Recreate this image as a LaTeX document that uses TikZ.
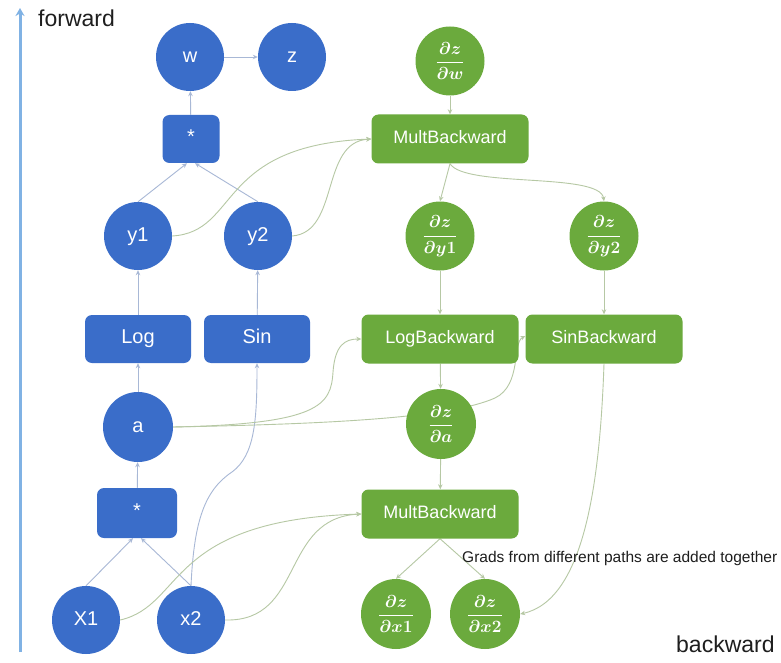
\documentclass[tikz,border=0pt]{standalone}
\usepackage{amsmath}
\usepackage{fontspec}
\setmainfont{Liberation Sans}
\usetikzlibrary{arrows.meta}

\definecolor{fwdblue}{RGB}{58,109,201}
\definecolor{bwdgreen}{RGB}{107,170,61}
\definecolor{fwdedge}{RGB}{168,184,214}
\definecolor{bwdedge}{RGB}{182,200,164}
\definecolor{axisblue}{RGB}{128,178,228}
\definecolor{textdark}{RGB}{30,30,30}

\pgfdeclarelayer{paper}
\pgfdeclarelayer{edges}
\pgfsetlayers{paper,edges,main}

\tikzset{
  fwdvar/.style={circle, fill=fwdblue, minimum size=68pt, inner sep=0pt,
    text height=1.15em, text depth=0.12em,
    text=white, font=\fontsize{20}{24}\selectfont},
  fwdop/.style={rectangle, rounded corners=7pt, fill=fwdblue, inner sep=0pt,
    text height=1.1em, text depth=0.12em,
    text=white, font=\fontsize{20}{24}\selectfont},
  gradvar/.style={circle, fill=bwdgreen, minimum size=69pt, inner sep=0pt,
    text=white, font=\fontsize{19}{22}\selectfont\boldmath},
  bwdop/.style={rectangle, rounded corners=7pt, fill=bwdgreen, inner sep=0pt,
    minimum width=157pt, minimum height=49pt,
    text height=1.1em, text depth=0.12em,
    text=white, font=\fontsize{18}{22}\selectfont},
  fwdarrow/.style={draw=fwdedge, line width=0.9pt, -{Stealth[length=5pt,width=4.5pt]}},
  bwdarrow/.style={draw=bwdedge, line width=0.9pt, -{Stealth[length=5pt,width=4.5pt]}},
  sidelabel/.style={text=textdark, inner sep=0pt, font=\fontsize{23}{26}\selectfont},
}

\begin{document}
\begin{tikzpicture}[x=1pt, y=-1pt]
  \begin{pgfonlayer}{paper}
    \fill[white] (0,0) rectangle (781,663);
  \end{pgfonlayer}
  \useasboundingbox (0,0) rectangle (781,663);

  % direction axis
  \coordinate (axisbot) at (20,652);
  \coordinate (axistop) at (20,8);
  \draw[axisblue, line width=3pt, -{Stealth[length=8pt,width=9pt]}] (axisbot) -- (axistop);
  \node[sidelabel, anchor=base west] (fwdtxt) at (38,27) {forward};
  \node[sidelabel, anchor=base west] (bwdtxt) at (676,652) {backward};

  % forward graph
  \node[fwdvar] (w) at (190,57) {w};
  \node[fwdvar] (z) at (292,57) {z};
  \node[fwdop, minimum width=57pt, minimum height=48pt] (mtop) at (191,139) {*};
  \node[fwdvar] (y1) at (138,236) {y1};
  \node[fwdvar] (y2) at (258,236) {y2};
  \node[fwdop, minimum width=106pt, minimum height=48pt] (log) at (138,339) {Log};
  \node[fwdop, minimum width=106pt, minimum height=48pt] (sin) at (257,339) {Sin};
  \node[fwdvar, minimum size=70pt] (a) at (138,427) {a};
  \node[fwdop, minimum width=80pt, minimum height=50pt] (mlow) at (137,513) {*};
  \node[fwdvar] (x1) at (86,620) {X1};
  \node[fwdvar] (x2) at (191,620) {x2};

  % backward graph
  \node[gradvar] (gw) at (450,61) {$\dfrac{\partial z}{\partial w}$};
  \node[bwdop] (mbtop) at (450,139) {MultBackward};
  \node[gradvar] (gy1) at (440,236) {$\dfrac{\partial z}{\partial y1}$};
  \node[gradvar] (gy2) at (604,236) {$\dfrac{\partial z}{\partial y2}$};
  \node[bwdop] (logb) at (440,339) {LogBackward};
  \node[bwdop] (sinb) at (604,339) {SinBackward};
  \node[gradvar, minimum size=70pt] (ga) at (441,424) {$\dfrac{\partial z}{\partial a}$};
  \node[bwdop] (mblow) at (440,514) {MultBackward};
  \node[gradvar, minimum size=70pt] (gx1) at (396,614) {$\dfrac{\partial z}{\partial x1}$};
  \node[gradvar, minimum size=70pt] (gx2) at (485,614) {$\dfrac{\partial z}{\partial x2}$};

  \node[text=textdark, inner sep=0pt, anchor=base west, font=\fontsize{15.5}{18}\selectfont]
    (note) at (462,562) {Grads from different paths are added together};

  \begin{pgfonlayer}{edges}
    % forward connectors
    \draw[fwdarrow] (w) -- (z);
    \draw[fwdarrow] (mtop) -- (w);
    \draw[fwdarrow] (y1.north) -- ([xshift=-4pt]mtop.south);
    \draw[fwdarrow] (y2.north) -- ([xshift=4pt]mtop.south);
    \draw[fwdarrow] (log) -- (y1);
    \draw[fwdarrow] (sin) -- (y2);
    \draw[fwdarrow] (a) -- (log);
    \draw[fwdarrow] (mlow) -- (a);
    \draw[fwdarrow] (x1.north) -- ([xshift=-4pt]mlow.south);
    \draw[fwdarrow] (x2.north) -- ([xshift=4pt]mlow.south);
    \draw[fwdarrow] (x2.north) .. controls (194,520) and (205,490) .. (232,472)
      .. controls (255,455) and (257,420) .. (sin.south);

    % backward connectors
    \draw[bwdarrow] (gw) -- (mbtop);
    \draw[bwdarrow] (y1.east) .. controls (240,232) and (215,145) .. (mbtop.west);
    \draw[bwdarrow] (y2.east) .. controls (340,232) and (320,142) .. (mbtop.west);
    \draw[bwdarrow] (mbtop.south) -- (gy1.north);
    \draw[bwdarrow] (mbtop.south) .. controls (465,188) and (600,172) .. (gy2.north);
    \draw[bwdarrow] (gy1) -- (logb);
    \draw[bwdarrow] (gy2) -- (sinb);
    \draw[bwdarrow] (a.east) .. controls (320,424) and (331,405) .. (333,372)
      .. controls (335,345) and (345,339) .. (logb.west);
    \draw[bwdarrow] (a.east) .. controls (330,424) and (450,418) .. (495,398)
      .. controls (522,385) and (512,343) .. ([yshift=3pt]sinb.west);
    \draw[bwdarrow] (logb) -- (ga);
    \draw[bwdarrow] (ga) -- (mblow);
    \draw[bwdarrow] (x1.east) .. controls (185,605) and (165,520) .. (mblow.west);
    \draw[bwdarrow] (x2.east) .. controls (305,622) and (280,518) .. (mblow.west);
    \draw[bwdarrow] (mblow.south) -- (gx1.north);
    \draw[bwdarrow] (mblow.south) -- (gx2.north);
    \draw[bwdarrow] (sinb.south) .. controls (600,480) and (585,600) .. (gx2.east);
  \end{pgfonlayer}
\end{tikzpicture}
\end{document}
